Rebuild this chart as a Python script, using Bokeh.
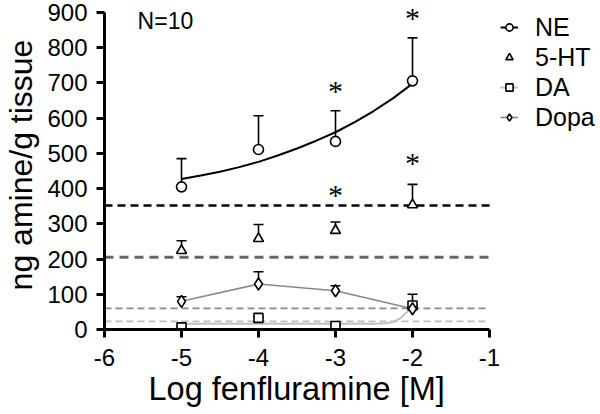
from bokeh.plotting import figure
from bokeh.models import ColumnDataSource, Legend, LegendItem, FixedTicker, Range1d, LabelSet, Label, Title
from bokeh.embed import file_html
from bokeh.resources import INLINE

FONT = "Liberation Sans"

# ---- data ----
doses = [-5, -4, -3, -2]
ne = [405, 511, 534, 706]
ne_top = [485, 607, 621, 828]
ht = [224, 258, 281, 354]
ht_top = [252, 298, 305, 412]
da = [6, 33, 10, 68]
da_top = [8, 35, 12, 100]
dopa = [80, 129, 110, 59]
dopa_top = [93, 164, 124, 62]

ne_fit_x = [-5, -4.75, -4.5, -4.25, -4, -3.75, -3.5, -3.25, -3, -2.75, -2.5, -2.25, -2]
ne_fit_y = [427, 437, 448, 461, 476, 494, 514, 536, 560, 589, 621, 657, 698]
da_fit_x = [-5, -4, -3, -2.5, -2.35, -2.25, -2.15, -2.07, -2]
da_fit_y = [16, 16, 16, 16.5, 18, 21, 33, 50, 63]

baselines = [352, 205, 60, 23]
ast_x = [-3, -2, -3, -2]
ast_y = [680, 889, 385, 476]

x_ticks = [-6, -5, -4, -3, -2, -1]
y_ticks = [0, 100, 200, 300, 400, 500, 600, 700, 800, 900]
series_names = ["NE", "5-HT", "DA", "Dopa"]

# ---- figure geometry ----
W, H = 600, 414
LEFT, BOTTOM = 104, 85
AXIS_TOP_PX = 12          # where the 900 tick sits, measured from the top
FRAME_W = W - LEFT
FRAME_H = H - BOTTOM
PX_PER_UNIT = 77.0
y_end = y_ticks[-1] * FRAME_H / (FRAME_H - AXIS_TOP_PX)

p = figure(width=W, height=H, output_backend="svg", toolbar_location=None,
           x_range=Range1d(x_ticks[0], x_ticks[0] + FRAME_W / PX_PER_UNIT),
           y_range=Range1d(0, y_end),
           min_border_left=LEFT, min_border_right=0, min_border_top=0, min_border_bottom=BOTTOM)
p.outline_line_color = None
p.grid.visible = False
p.background_fill_color = "white"

for ax in (p.xaxis[0], p.yaxis[0]):
    ax.axis_line_width = 3
    ax.axis_line_color = "black"
    ax.major_tick_line_width = 3
    ax.major_tick_in = 0
    ax.major_tick_out = 8
    ax.minor_tick_line_color = None
    ax.major_label_text_font = FONT
    ax.major_label_text_font_size = "24px"
    ax.major_label_text_color = "black"
    ax.axis_label_text_font = FONT
    ax.axis_label_text_font_size = "32px"
    ax.axis_label_text_font_style = "normal"
    ax.axis_label_text_color = "black"

p.xaxis.bounds = (x_ticks[0], x_ticks[-1])
p.yaxis.bounds = (y_ticks[0], y_ticks[-1])
p.xaxis.ticker = FixedTicker(ticks=x_ticks)
p.yaxis.ticker = FixedTicker(ticks=y_ticks)
p.xaxis.major_label_overrides = {t: str(t) for t in x_ticks}
p.yaxis.axis_label = "ng amine/g tissue"
p.xaxis.major_label_standoff = 11
p.yaxis.major_label_standoff = 9
p.yaxis.axis_label_standoff = 5

# x-axis title, centred under the -6..-1 span
xtitle = Title(text="Log fenfluramine [M]", align="left", offset=44, standoff=0,
               text_font=FONT, text_font_size="32.5px", text_font_style="normal", text_color="black")
p.add_layout(xtitle, "below")

# baseline dashed lines (from -6 to -1)
span_styles = [("black", 2.5, "8 5"), ("#666666", 3, "9 6"), ("#888888", 1.6, "7 4"), ("#bbbbbb", 1.6, "7 4")]
for loc, (c, w, d) in zip(baselines, span_styles):
    p.line([x_ticks[0], x_ticks[-1]], [loc, loc], line_color=c, line_width=w, line_dash=d)

# fitted curves / connecting lines
ne_line = p.line(ne_fit_x, ne_fit_y, line_color="black", line_width=2)
da_line = p.line(da_fit_x, da_fit_y, line_color="#c0c0c0", line_width=2)
dopa_line = p.line(doses, dopa, line_color="#888888", line_width=1.6)

# error bars
for vals, tops in [(ne, ne_top), (ht, ht_top), (da, da_top), (dopa, dopa_top)]:
    p.segment(x0=doses, y0=vals, x1=doses, y1=tops, line_color="black", line_width=1.6)
    p.scatter(x=doses, y=tops, marker="dash", size=10, line_color="black", line_width=1.6)

ne_pts = p.scatter(doses, ne, marker="circle", size=10, fill_color="white", line_color="black", line_width=1.6)
ht_pts = p.scatter(doses, ht, marker="triangle", size=10, fill_color="white", line_color="black", line_width=1.6)
da_pts = p.scatter(doses, da, marker="square", size=9, fill_color="white", line_color="black", line_width=1.6)
dopa_pts = p.scatter(doses, dopa, marker="diamond", size=12, fill_color="white", line_color="black", line_width=1.6)

# asterisks
ast_src = ColumnDataSource(dict(x=ast_x, y=ast_y, t=["*"] * len(ast_x)))
p.add_layout(LabelSet(x="x", y="y", text="t", source=ast_src, text_align="center",
                      text_baseline="middle", y_offset=-1, text_font=FONT,
                      text_font_size="30px", text_color="black"))

p.add_layout(Label(x=-5.57, y=877, text="N=10", text_font=FONT, text_font_size="23px",
                   text_baseline="middle", text_align="left", text_color="black"))

legend = Legend(items=[
    LegendItem(label=series_names[0], renderers=[ne_line, ne_pts]),
    LegendItem(label=series_names[1], renderers=[ht_pts]),
    LegendItem(label=series_names[2], renderers=[da_line, da_pts]),
    LegendItem(label=series_names[3], renderers=[dopa_line, dopa_pts]),
], location=(396, FRAME_H - AXIS_TOP_PX - 120))
legend.border_line_color = None
legend.background_fill_alpha = 0
legend.padding = 0
legend.margin = 0
legend.spacing = 0
legend.glyph_width = 18
legend.glyph_height = 30
legend.label_height = 30
legend.label_standoff = 17
legend.label_text_font = FONT
legend.label_text_font_size = "25px"
legend.label_text_color = "black"
legend.label_text_baseline = "middle"
p.add_layout(legend, "center")

open("out.html", "w").write(file_html(p, INLINE))
